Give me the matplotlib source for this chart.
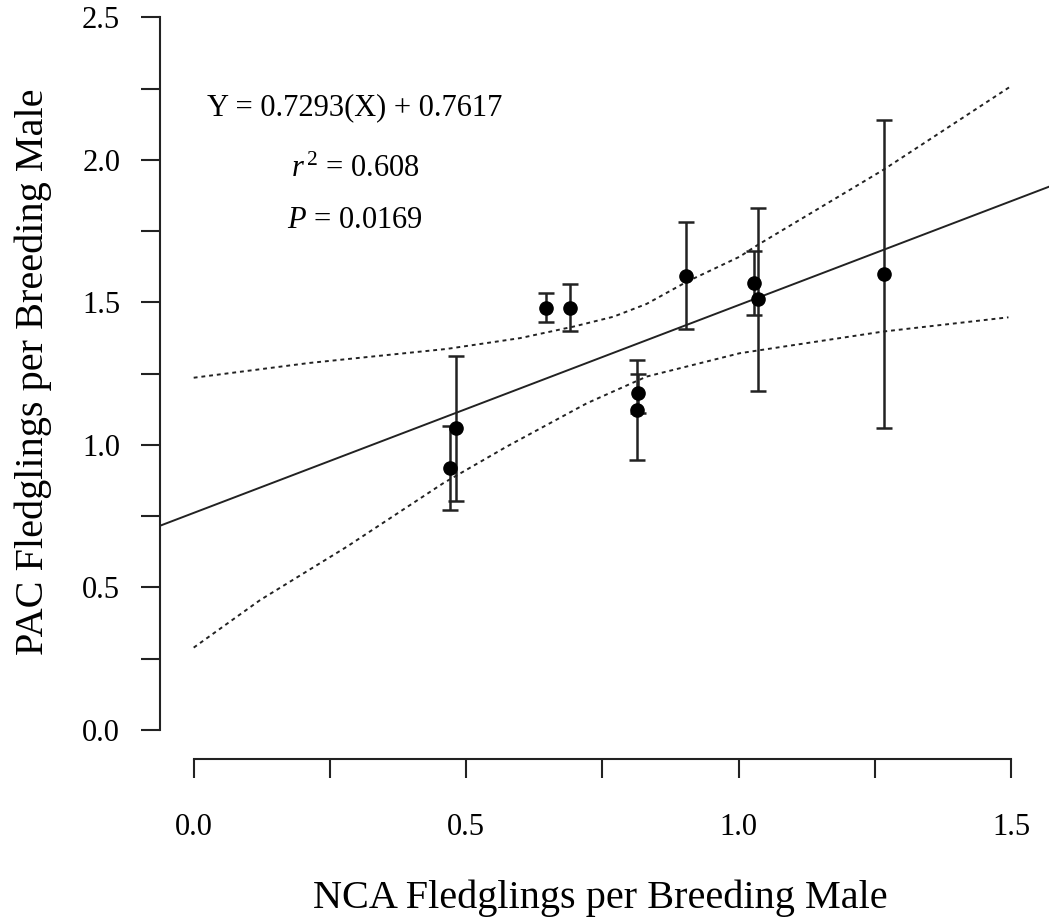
import matplotlib
matplotlib.use("Agg")
import matplotlib.pyplot as plt
import numpy as np

# point estimates
nca = [0.470, 0.481, 0.646, 0.690, 0.816, 0.814, 0.903, 1.028, 1.035, 1.267]
pac = [0.919, 1.058, 1.482, 1.482, 1.181, 1.123, 1.594, 1.567, 1.511, 1.601]
pac_err = [0.147, 0.255, 0.052, 0.083, 0.067, 0.175, 0.188, 0.112, 0.320, 0.540]

# regression line and confidence band (band)
slope, intercept = 0.7293, 0.7617
upper_x = [0.0, 0.213, 0.464, 0.599, 0.696, 0.770, 0.831, 0.905, 1.002, 1.035, 1.265, 1.498]
upper_y = [1.236, 1.288, 1.337, 1.375, 1.415, 1.450, 1.495, 1.573, 1.661, 1.702, 1.965, 2.257]
lower_x = [0.0, 0.122, 0.281, 0.458, 0.574, 0.721, 0.831, 1.002, 1.265, 1.495]
lower_y = [0.289, 0.456, 0.643, 0.866, 0.994, 1.146, 1.240, 1.322, 1.398, 1.448]

stats_lines = ["Y = 0.7293(X) + 0.7617", "$r^{\\,2}$ = 0.608", "$P$ = 0.0169"]

plt.rcParams['font.family'] = ['Liberation Serif', 'DejaVu Serif']
plt.rcParams['mathtext.fontset'] = 'custom'
plt.rcParams['mathtext.rm'] = 'Liberation Serif'
plt.rcParams['mathtext.it'] = 'Liberation Serif:italic'

W, H = 1049, 919
fig = plt.figure(figsize=(W / 100, H / 100), dpi=100)
ax = fig.add_axes([160 / W, 1 - 759 / H, (W - 160) / W, 759 / H])
ax.set_xlim(-0.0618, 1.5694)
ax.set_ylim(-0.1018, 2.5614)

ink = '#222222'

# fitted line across the whole panel
xs = np.array(ax.get_xlim())
ax.plot(xs, slope * xs + intercept, color=ink, lw=1.4)
ax.plot(upper_x, upper_y, color=ink, lw=1.4, ls=(0, (2, 2)))
ax.plot(lower_x, lower_y, color=ink, lw=1.4, ls=(0, (2, 2)))

ax.errorbar(nca, pac, yerr=pac_err, fmt='o', color='black', ms=9.5,
            ecolor=ink, elinewidth=1.8, capsize=5.5, capthick=1.8, zorder=3)

# R-style detached axes
for s in ['top', 'right']:
    ax.spines[s].set_visible(False)
for s in ['left', 'bottom']:
    ax.spines[s].set_color(ink)
    ax.spines[s].set_linewidth(1.5)
ax.spines['left'].set_bounds(0, 2.5)
ax.spines['bottom'].set_bounds(0, 1.5)

ax.set_xticks(np.arange(0, 1.51, 0.25))
ax.set_xticklabels(['0.0', '', '0.5', '', '1.0', '', '1.5'])
ax.set_yticks(np.arange(0, 2.51, 0.25))
ax.set_yticklabels(['0.0', '', '0.5', '', '1.0', '', '1.5', '', '2.0', '', '2.5'])
ax.tick_params(axis='both', direction='out', length=13.7, width=1.5,
               color=ink, labelsize=22)
ax.tick_params(axis='x', pad=25)
ax.tick_params(axis='y', pad=15)

for i, line in enumerate(stats_lines):
    y_px = [115, 177, 228][i]
    fig.text(355 / W, 1 - y_px / H, line, ha='center', va='baseline', fontsize=22)

fig.text(600 / W, 1 - 908 / H, "NCA Fledglings per Breeding Male",
         ha='center', va='baseline', fontsize=29)
fig.text(43 / W, 1 - 372 / H, "PAC Fledglings per Breeding Male",
         ha='center', va='baseline', rotation=90, rotation_mode='anchor', fontsize=29)

fig.savefig('out.png', dpi=100)
